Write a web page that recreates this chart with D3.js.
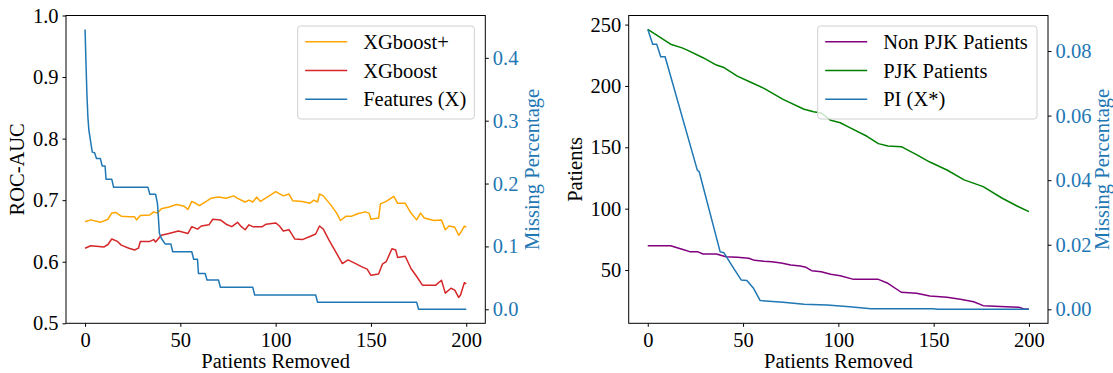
<!DOCTYPE html>
<html>
<head>
<meta charset="utf-8">
<script src="https://cdn.jsdelivr.net/npm/d3@7"></script>
<style>
  body { margin: 0; background: #fff; }
  svg text { font-family: "Liberation Serif", "Times New Roman", serif; }
</style>
</head>
<body>
<svg id="chart" width="1113" height="373"></svg>
<script>
// left panel: ROC-AUC of the two models, plus missing share of features
var xgbPlusX = [0,3,8,12,14,16,19,23,26,27,29,34,36,38,40,44,48,52,54,56,58,60,63,66,70,74,78,80,84,86,88,90,92,97,100,104,107,109,114,118,120,122,123,125,129,132,134,137,140,143,147,149,150,154,155,158,162,164,168,171,174,176,178,183,187,189,191,194,196,197,199,200];
var xgbPlusY = [0.665,0.668,0.664,0.669,0.679,0.680,0.674,0.673,0.673,0.668,0.675,0.676,0.681,0.679,0.686,0.689,0.693,0.690,0.685,0.698,0.695,0.691,0.697,0.703,0.705,0.703,0.707,0.703,0.697,0.700,0.697,0.705,0.698,0.708,0.714,0.707,0.710,0.699,0.698,0.695,0.700,0.697,0.710,0.707,0.692,0.679,0.667,0.674,0.674,0.678,0.681,0.679,0.669,0.671,0.694,0.698,0.706,0.695,0.695,0.679,0.668,0.679,0.671,0.667,0.668,0.652,0.658,0.656,0.643,0.647,0.658,0.656];

var xgbX = [0,3,10,12,14,17,19,23,26,28,29,34,36,37,40,44,49,54,56,59,61,65,67,71,74,77,80,82,84,86,88,93,95,100,102,104,107,110,114,118,121,123,125,128,131,135,138,142,145,148,150,154,156,158,161,163,164,168,171,174,177,184,187,189,192,194,196,197,199,200];
var xgbY = [0.622,0.626,0.624,0.628,0.637,0.633,0.627,0.622,0.619,0.622,0.633,0.633,0.636,0.632,0.643,0.646,0.650,0.646,0.657,0.653,0.658,0.660,0.669,0.668,0.661,0.657,0.664,0.657,0.652,0.660,0.657,0.657,0.661,0.663,0.658,0.650,0.652,0.637,0.636,0.641,0.645,0.658,0.653,0.635,0.619,0.597,0.603,0.597,0.592,0.588,0.578,0.580,0.596,0.600,0.621,0.619,0.607,0.609,0.589,0.576,0.562,0.562,0.570,0.549,0.557,0.554,0.542,0.546,0.566,0.564];

var featX = [0,0.5,1,1.5,2,3,3.8,5,6,8,9,10.5,11,14,15,33,34,37,38,39,40,42,45,46,56,57,59,59.5,63,64,70,71,88,89,121,122,174,175,200];
var featY = [0.445,0.39,0.34,0.305,0.285,0.265,0.25,0.249,0.240,0.240,0.228,0.228,0.207,0.207,0.194,0.194,0.183,0.183,0.168,0.121,0.113,0.104,0.104,0.0916,0.0916,0.0795,0.0795,0.057,0.057,0.0466,0.0466,0.035,0.035,0.0227,0.0227,0.0111,0.0111,0,0];

// right panel: patients left by group, plus missing share of PI
var nonPjkX = [0,12,18,22,26,29,36,41,47,53,56,61,65,70,75,80,83,86,91,96,101,108,121,126,133,141,148,157,164,171,176,188,195,197,200];
var nonPjkY = [69.8,69.8,66.9,65,65,63.1,63.1,60.9,60.4,59.6,57.9,57.1,56.8,55.7,54.1,53.3,52.2,49.5,48.6,46.5,45.4,42.4,42.4,39.2,31.9,31.0,28.8,27.8,26.2,24.2,21,20.1,19.6,18.5,18.0];

var pjkX = [0,12,18,21,29,36,40,47,54,61,71,82,87,91,96,101,106,115,121,126,133,141,148,157,166,176,186,194,200];
var pjkY = [246,234,231,229,223,217,215,208,203,198,189,181,179,178,172,170,166,159,153,151,150.5,144,138,131.5,123.5,118,108.5,102,97.6];

var piX = [0,2.6,4.7,6.8,9.1,26,27,38,40,44,49,52,55.5,59,71,82,94,106,117,150,152,200];
var piY = [0.0867,0.0821,0.0821,0.0782,0.0782,0.0431,0.0426,0.0178,0.0175,0.0137,0.0091,0.0089,0.0065,0.0027,0.0022,0.0016,0.0013,0.0008,0.0002,0.0002,0,0];

var xTicks = [0, 50, 100, 150, 200];
var rocTicks = [0.5, 0.6, 0.7, 0.8, 0.9, 1.0];
var missTicksA = [0, 0.1, 0.2, 0.3, 0.4];
var patientTicks = [50, 100, 150, 200, 250];
var missTicksB = [0, 0.02, 0.04, 0.06, 0.08];

var blue = '#1f77b4';
var serif = '"Liberation Serif", "Times New Roman", serif';
var fontSize = 20.5;
var W = 419.3, H = 307.8;
var svg = d3.select('#chart');

function zip(xs, ys) {
  return xs.map(function(v, i) { return [v, ys[i]]; });
}

function drawPanel(cfg) {
  var g = svg.append('g')
    .attr('transform', 'translate(' + cfg.left + ',' + cfg.top + ')');

  var x = d3.scaleLinear().domain([-10, 210]).range([0, W]);
  var yL = d3.scaleLinear().domain(cfg.leftDomain).range([H, 0]);
  var yR = d3.scaleLinear().domain(cfg.rightDomain).range([H, 0]);

  cfg.series.forEach(function(s) {
    var y = s.axis === 'R' ? yR : yL;
    var line = d3.line()
      .x(function(d) { return x(d[0]); })
      .y(function(d) { return y(d[1]); });
    g.append('path')
      .attr('d', line(zip(s.x, s.y)))
      .attr('fill', 'none')
      .attr('stroke', s.color)
      .attr('stroke-width', 1.5)
      .attr('stroke-linejoin', 'round');
  });

  // frame
  g.append('rect')
    .attr('width', W).attr('height', H)
    .attr('fill', 'none').attr('stroke', '#000').attr('stroke-width', 1);

  var ax = g.append('g')
    .attr('transform', 'translate(0,' + H + ')')
    .call(d3.axisBottom(x).tickValues(xTicks).tickSize(3.5).tickPadding(6));
  var axL = g.append('g')
    .call(d3.axisLeft(yL).tickValues(cfg.leftTicks).tickFormat(cfg.leftFormat).tickSize(3.5).tickPadding(4));
  var axR = g.append('g')
    .attr('transform', 'translate(' + W + ',0)')
    .call(d3.axisRight(yR).tickValues(cfg.rightTicks).tickFormat(cfg.rightFormat).tickSize(3.5).tickPadding(4));

  [ax, axL, axR].forEach(function(a) {
    a.select('.domain').remove();
    a.attr('font-family', serif).attr('font-size', fontSize);
    a.selectAll('line').attr('stroke', '#000');
  });
  axR.selectAll('text').attr('fill', blue);

  // axis titles
  g.append('text')
    .attr('x', W / 2).attr('y', 352.5)
    .attr('text-anchor', 'middle').attr('font-size', fontSize)
    .text('Patients Removed');
  g.append('text')
    .attr('transform', 'translate(' + cfg.leftTitleX + ',' + H / 2 + ') rotate(-90)')
    .attr('text-anchor', 'middle').attr('font-size', fontSize)
    .text(cfg.leftTitle);
  g.append('text')
    .attr('transform', 'translate(' + cfg.rightTitleX + ',' + H / 2 + ') rotate(-90)')
    .attr('text-anchor', 'middle').attr('font-size', fontSize).attr('fill', blue)
    .text('Missing Percentage');

  // legend
  var lg = g.append('g')
    .attr('transform', 'translate(' + (W - 11 - cfg.legendWidth) + ',10.5)');
  lg.append('rect')
    .attr('width', cfg.legendWidth).attr('height', 93)
    .attr('rx', 3).attr('ry', 3)
    .attr('fill', '#fff').attr('fill-opacity', 0.8)
    .attr('stroke', '#d0d0d0').attr('stroke-width', 1);
  var rows = lg.selectAll('g.row')
    .data(cfg.series)
    .enter()
    .append('g')
    .attr('class', 'row')
    .attr('transform', function(d, i) { return 'translate(0,' + (15.7 + i * 28.8) + ')'; });
  rows.append('line')
    .attr('x1', 7.5).attr('x2', 49.5)
    .attr('stroke', function(d) { return d.color; })
    .attr('stroke-width', 1.5);
  rows.append('text')
    .attr('x', 65.5).attr('y', 7)
    .attr('font-size', fontSize)
    .text(function(d) { return d.name; });
}

drawPanel({
  left: 66, top: 15.5,
  leftDomain: [0.5, 1.0],
  rightDomain: [-0.02225, 0.4673],
  leftTicks: rocTicks, leftFormat: d3.format('.1f'),
  rightTicks: missTicksA, rightFormat: d3.format('.1f'),
  leftTitle: 'ROC-AUC', leftTitleX: -42,
  rightTitleX: 473,
  legendWidth: 176.6,
  series: [
    { name: 'XGboost+', x: xgbPlusX, y: xgbPlusY, color: '#ffa500', axis: 'L' },
    { name: 'XGboost', x: xgbX, y: xgbY, color: '#d62728', axis: 'L' },
    { name: 'Features (X)', x: featX, y: featY, color: blue, axis: 'R' }
  ]
});

drawPanel({
  left: 628.7, top: 15.5,
  leftDomain: [6.6, 257.4],
  rightDomain: [-0.00433, 0.0910],
  leftTicks: patientTicks, leftFormat: d3.format('d'),
  rightTicks: missTicksB, rightFormat: d3.format('.2f'),
  leftTitle: 'Patients', leftTitleX: -47,
  rightTitleX: 480.5,
  legendWidth: 219.3,
  series: [
    { name: 'Non PJK Patients', x: nonPjkX, y: nonPjkY, color: '#800080', axis: 'L' },
    { name: 'PJK Patients', x: pjkX, y: pjkY, color: '#008000', axis: 'L' },
    { name: 'PI (X*)', x: piX, y: piY, color: blue, axis: 'R' }
  ]
});
</script>
</body>
</html>
